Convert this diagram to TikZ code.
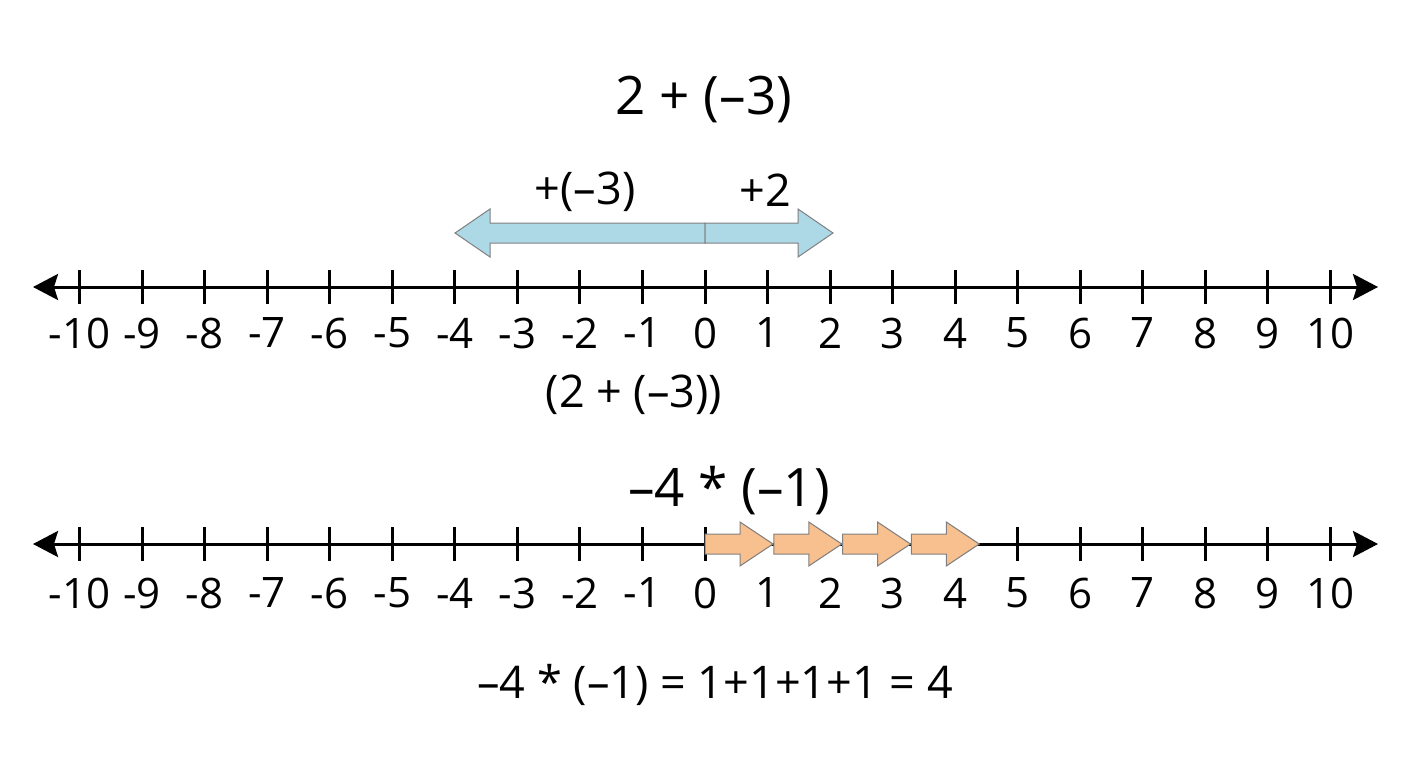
\documentclass[tikz,border=0pt]{standalone}
\usepackage{fontspec}
\setmainfont{Open Sans}
\usetikzlibrary{arrows.meta}
\definecolor{stepblue}{RGB}{173,216,230}
\definecolor{steporange}{RGB}{248,192,142}
\definecolor{edgegray}{RGB}{128,128,128}

\begin{document}
\begin{tikzpicture}[x=1pt, y=-1pt,
        axis/.style={line width=3pt, {Stealth[length=25pt,width=26pt,inset=4pt]}-{Stealth[length=25pt,width=26pt,inset=4pt]}},
        tick/.style={line width=3pt},
        num/.style={font=\fontsize{42}{48}\selectfont, inner sep=0pt},
        title/.style={font=\fontsize{53}{60}\selectfont, inner sep=0pt},
        expr/.style={font=\fontsize{45}{52}\selectfont, inner sep=0pt},
        bluebox/.style={fill=stepblue, draw=edgegray, line width=1pt, line join=miter},
        orangebox/.style={fill=steporange, draw=edgegray, line width=1pt, line join=miter}]
    \useasboundingbox (0,0) rectangle (1408,768);

    % first number line: 2 + (-3)
    \node[title] (sum) at (704,100) {2 + (–3)};
    \node[expr] (minus3) at (585,192) {+(–3)};
    \node[expr] (plus2) at (765,190) {+2};

    \filldraw[bluebox] (705,223) -- (490,223) -- (490,209) -- (455,233) -- (490,257) -- (490,243) -- (705,243) -- cycle;
    \filldraw[bluebox] (705,223) -- (798,223) -- (798,209) -- (833,233) -- (798,257) -- (798,243) -- (705,243) -- cycle;

    \coordinate (l1) at (33,287);
    \coordinate (r1) at (1378,287);
    \draw[axis] (l1) -- (r1);
    \foreach \n in {-10,...,10} {
        \draw[tick] ({705+62.55*\n},270) -- ({705+62.55*\n},304);
        \node[num] (a\n) at ({705+62.55*\n},333) {\n};
    }
    \node[expr] (sumbr) at (634,395) {(2 + (–3))};

    % second number line: -4 * (-1)
    \node[title] (prod) at (729,491) {–4 * (–1)};

    \coordinate (l2) at (33,544);
    \coordinate (r2) at (1378,544);
    \draw[axis] (l2) -- (r2);
    \foreach \n in {-10,...,0,5,6,...,10}
        \draw[tick] ({705+62.55*\n},527) -- ({705+62.55*\n},561);
    \foreach \n in {-10,...,10}
        \node[num] (b\n) at ({705+62.55*\n},593) {\n};

    \foreach \i in {0,...,3}
        \filldraw[orangebox] ({705+68.75*\i},534) -- ({740+68.75*\i},534) -- ({740+68.75*\i},522) -- ({773+68.75*\i},544)
            -- ({740+68.75*\i},566) -- ({740+68.75*\i},554) -- ({705+68.75*\i},554) -- cycle;

    \node[expr] (result) at (715,685) {–4 * (–1) = 1+1+1+1 = 4};
\end{tikzpicture}
\end{document}
